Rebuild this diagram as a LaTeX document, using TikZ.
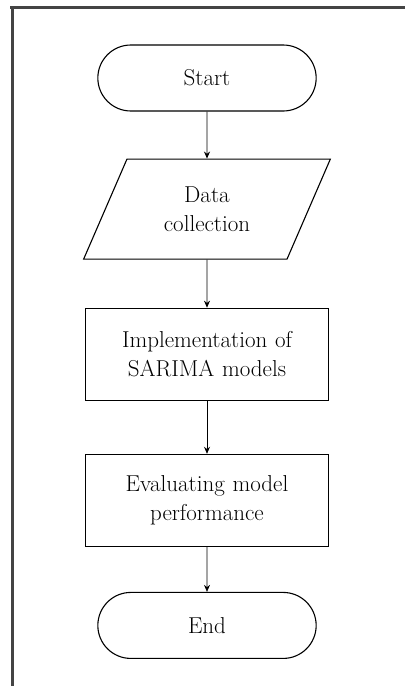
\documentclass[tikz,border=0pt]{standalone}
\usetikzlibrary{positioning, arrows.meta, shapes.misc, shapes.geometric}
\definecolor{frameGrey}{HTML}{444444}

\begin{document}
\begin{tikzpicture}[x=1pt, y=1pt, font=\fontsize{23}{29}\selectfont,
    terminal/.style={draw, line width=1.1pt, rounded rectangle,
          minimum width=225pt, minimum height=66pt},
    iobox/.style={draw, line width=1.1pt, trapezium, trapezium stretches=true,
          trapezium left angle=64, trapezium right angle=116,
          minimum width=247pt, minimum height=100pt, align=center},
    procbox/.style={draw, line width=1.1pt, text width=225pt, align=center,
          minimum width=243pt, minimum height=92pt},
    flow/.style={-{Stealth[length=7pt, width=6pt]}, line width=0.8pt}]
    \useasboundingbox (0,0) rectangle (405,-686);
    % frame
    \draw[frameGrey, line width=3pt] (10,-7) -- (405,-7);
    \draw[frameGrey, line width=3pt] (12,-7) -- (12,-686);

    \node[terminal] (start) at (207,-78) {Start};
    \node[iobox, below=47pt of start] (data) {Data\\collection};
    \node[procbox, below=48pt of data] (impl) {Implementation of\\SARIMA models};
    \node[procbox, below=53pt of impl] (eval) {Evaluating model\\performance};
    \node[terminal, below=45pt of eval] (stop) {End};

    \draw[flow] (start) -- (data);
    \draw[flow] (data) -- (impl);
    \draw[flow] (impl) -- (eval);
    \draw[flow] (eval) -- (stop);
  \end{tikzpicture}
\end{document}
